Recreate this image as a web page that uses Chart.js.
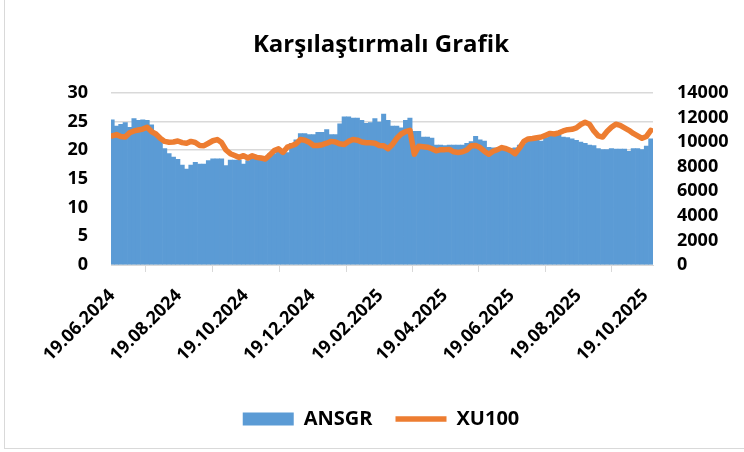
<!DOCTYPE html>
<html>
<head>
<meta charset="utf-8">
<script src="https://cdn.jsdelivr.net/npm/chart.js@4.4.1/dist/chart.umd.min.js"></script>
<style>
	body { margin: 0; background: #fff; }
	#wrap { position: relative; width: 744px; height: 452px; }
	#frame { position: absolute; left: 4px; top: 0; width: 739px; height: 448px; border-left: 1px solid #d9d9d9; border-bottom: 1px solid #d9d9d9; pointer-events: none; }
</style>
</head>
<body>
<div id="wrap">
	<canvas id="chartCompare" width="744" height="452"></canvas>
	<div id="frame"></div>
</div>
<script>
'use strict'

// samples every 4 days starting 19.06.2024
const startDate = '19.06.2024'
const dayStep = 4

const tickLabels = ['19.06.2024', '19.08.2024', '19.10.2024', '19.12.2024', '19.02.2025', '19.04.2025', '19.06.2025', '19.08.2025', '19.10.2025']

const ansgr = [
	25.3, 24.2, 24.5, 24.8, 24.0, 25.5, 25.2, 25.3, 25.2, 24.4,
	22.8, 21.9, 20.3, 19.4, 18.8, 18.4, 17.4, 16.7, 17.4, 17.9,
	17.6, 17.6, 18.2, 18.5, 18.5, 18.5, 17.3, 18.3, 18.3, 18.3,
	17.6, 18.2, 18.6, 18.6, 18.9, 18.9, 19.4, 19.4, 19.9, 19.9,
	19.6, 21.2, 21.8, 22.9, 22.9, 22.7, 22.7, 23.1, 23.1, 23.6,
	22.7, 22.7, 24.6, 25.8, 25.8, 25.6, 25.6, 25.2, 24.7, 24.8,
	25.5, 24.9, 26.3, 25.2, 24.2, 24.2, 23.9, 25.2, 25.6, 23.3,
	23.3, 22.3, 22.3, 22.1, 20.9, 20.9, 20.8, 20.9, 20.9, 20.9,
	20.9, 21.2, 21.5, 22.4, 21.8, 21.6, 20.5, 20.4, 20.3, 20.4,
	20.5, 20.3, 20.4, 20.9, 21.1, 21.6, 21.8, 21.9, 21.6, 22.2,
	22.8, 22.9, 22.7, 22.3, 22.2, 22.0, 21.7, 21.4, 21.2, 20.9,
	20.8, 20.3, 20.1, 20.1, 20.3, 20.2, 20.2, 20.2, 19.8, 20.3,
	20.3, 20.1, 20.7, 22.0
]

const xu100 = [
	10500, 10600, 10450, 10400, 10750, 10900, 10980, 11050, 11200, 10850,
	10650, 10300, 10050, 9980, 10000, 10080, 9950, 9900, 10050, 9960,
	9720, 9700, 9900, 10100, 10200, 9950, 9350, 9050, 8900, 8750,
	8890, 8700, 8880, 8750, 8700, 8620, 8950, 9300, 9440, 9150,
	9580, 9700, 9850, 10200, 10150, 9980, 9720, 9720, 9780, 9900,
	10050, 10000, 9850, 9800, 10050, 10200, 10150, 10000, 9940, 9940,
	9900, 9720, 9700, 9450, 9800, 10300, 10650, 10850, 10950, 9000,
	9650, 9620, 9580, 9450, 9280, 9380, 9380, 9400, 9200, 9150,
	9200, 9350, 9700, 9720, 9550, 9250, 9000, 9250, 9380, 9550,
	9450, 9300, 9050, 9500, 10050, 10250, 10280, 10350, 10400, 10550,
	10700, 10650, 10750, 10900, 11000, 11030, 11150, 11420, 11600, 11450,
	10900, 10500, 10400, 10850, 11200, 11450, 11350, 11150, 10950, 10700,
	10500, 10300, 10450, 10950
]

const colors = {
	bar: '#5B9BD5',
	line: '#ED7D31',
	grid: '#D9D9D9',
	text: '#000000',
}

function dayOffset(s){
	const [d, m, y] = s.split('.').map(Number)
	const [d0, m0, y0] = startDate.split('.').map(Number)
	return Math.round((Date.UTC(y, m - 1, d) - Date.UTC(y0, m0 - 1, d0)) / 86400000)
}

const days = ansgr.map((v, i) => i * dayStep)
const font = (size) => ({ family: '"Open Sans"', size: size, weight: 'bold' })

new Chart(document.getElementById('chartCompare'), {
	type: 'bar',
	data: {
		datasets: [
			{
				label: 'ANSGR',
				data: ansgr.map((v, i) => ({ x: days[i], y: v })),
				backgroundColor: colors.bar,
				borderWidth: 0,
				categoryPercentage: 1,
				barPercentage: 1,
				pointStyle: 'rect',
				yAxisID: 'y',
				order: 2,
			},
			{
				label: 'XU100',
				type: 'line',
				data: xu100.map((v, i) => ({ x: days[i], y: v })),
				borderColor: colors.line,
				backgroundColor: colors.line,
				borderWidth: 5.5,
				borderCapStyle: 'round',
				borderJoinStyle: 'round',
				pointRadius: 0,
				pointStyle: 'line',
				tension: 0,
				yAxisID: 'y1',
				order: 1,
			},
		],
	},
	options: {
		responsive: false,
		animation: false,
		layout: { padding: { left: 18, right: 0, top: 0, bottom: 13 } },
		plugins: {
			title: {
				display: true,
				text: 'Karşılaştırmalı Grafik',
				color: colors.text,
				font: font(24),
				padding: { top: 31, bottom: 33 },
			},
			legend: {
				position: 'bottom',
				labels: {
					usePointStyle: true,
					pointStyleWidth: 51,
					boxHeight: 13,
					padding: 23,
					color: colors.text,
					font: font(20),
					sort: (a, b) => a.datasetIndex - b.datasetIndex,
				},
			},
			tooltip: { enabled: false },
		},
		scales: {
			x: {
				type: 'linear',
				min: -1,
				max: 494,
				offset: false,
				afterBuildTicks: (scale) => {
					scale.ticks = tickLabels.map(t => ({ value: dayOffset(t) }))
				},
				afterFit: (scale) => { scale.height = 121 },
				ticks: {
					autoSkip: false,
					minRotation: 45,
					maxRotation: 45,
					padding: 13,
					color: colors.text,
					font: font(18),
					callback: (value, index) => tickLabels[index],
				},
				grid: {
					drawOnChartArea: false,
					drawTicks: true,
					tickLength: 7,
					color: colors.grid,
				},
				border: { color: colors.grid, width: 1 },
			},
			y: {
				position: 'left',
				min: 0,
				max: 30,
				afterFit: (scale) => { scale.width = 93 },
				ticks: {
					stepSize: 5,
					padding: 23,
					color: colors.text,
					font: font(18),
				},
				grid: {
					drawTicks: false,
					color: colors.grid,
					lineWidth: 1.5,
				},
				border: { display: false },
			},
			y1: {
				position: 'right',
				min: 0,
				max: 14000,
				afterFit: (scale) => { scale.width = 91 },
				ticks: {
					stepSize: 2000,
					autoSkip: false,
					padding: 24,
					color: colors.text,
					font: font(18),
					callback: (value) => String(value),
				},
				grid: { display: false, drawTicks: false },
				border: { display: false },
			},
		},
	},
})
</script>
</body>
</html>
